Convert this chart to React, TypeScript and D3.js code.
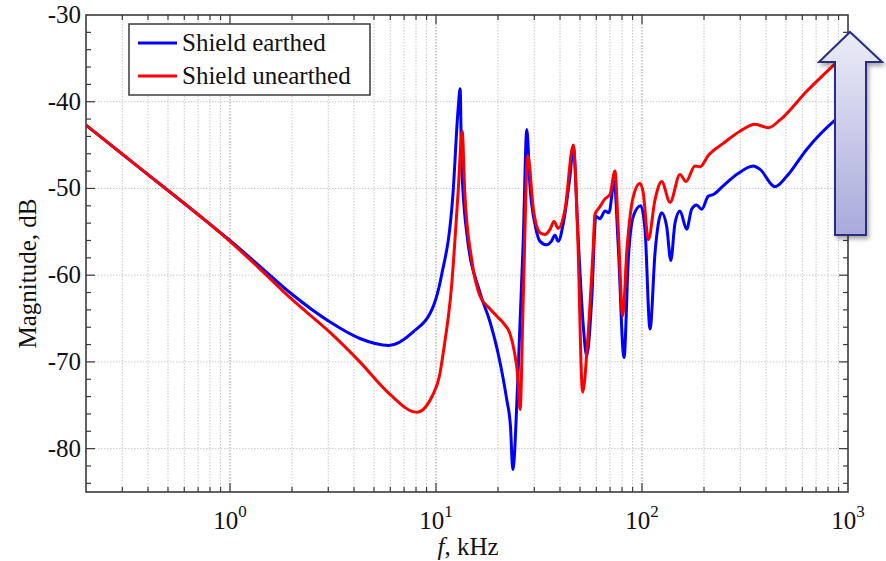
import React, { useEffect, useRef } from 'react';
import * as d3 from 'd3';

// frequency (kHz) and magnitude (dB)
const earthedFreq = [0.2, 0.4, 0.7, 1.0, 1.4, 2.0, 3.06, 4.27, 5.9, 7.7, 9.7, 10.6, 12.1, 12.8, 13.1, 13.3, 14.1, 16.35, 18.3, 20.1, 22.0, 23.0, 23.6, 25.0, 26.5, 27.6, 28.6, 30.4, 32.0, 34.5, 36.3, 37.8, 39.2, 41.5, 44.7, 46.4, 49.1, 51.9, 53.9, 57.0, 59.7, 62.5, 66.1, 69.1, 73.3, 76.7, 81.8, 85.8, 90.8, 98.6, 103.4, 109.4, 115.7, 124.6, 131.8, 138, 144.6, 152.9, 164.7, 174.2, 184.2, 194.8, 209.7, 221.9, 248, 288, 347, 374, 442, 504, 630, 849, 1000];
const earthedDb = [-42.7, -48.4, -53.0, -56.0, -59.0, -62.2, -65.4, -67.3, -68.1, -66.6, -63.6, -60.2, -50.5, -40.9, -38.5, -46.7, -55.1, -62.0, -65.4, -69.2, -74.2, -77.5, -82.4, -71.6, -56.2, -43.2, -49.8, -54.4, -56.1, -56.5, -56.1, -55.4, -56.1, -54.0, -48.6, -45.2, -56.2, -65.9, -69.3, -62.8, -53.2, -53.5, -52.6, -52.8, -49.2, -56.7, -69.5, -58.2, -53.2, -52.0, -54.7, -66.2, -57.4, -52.8, -54.4, -58.3, -54.0, -52.6, -54.7, -52.4, -51.9, -52.4, -50.9, -50.7, -49.7, -48.4, -47.4, -47.8, -49.8, -48.6, -45.5, -42.3, -41.0];

const unearthedFreq = [0.2, 0.4, 0.7, 1.0, 1.4, 2.0, 3.06, 4.27, 5.84, 8.06, 9.6, 10.4, 10.85, 11.9, 12.8, 13.4, 13.8, 14.9, 16.35, 18.3, 19.7, 21.2, 22.9, 24.0, 24.9, 25.6, 26.5, 27.9, 29.7, 32.0, 33.9, 35.8, 37.4, 39.2, 42.3, 46.4, 48.6, 51.5, 54.5, 57.9, 59.1, 62.5, 66.1, 69.9, 73.9, 76.7, 80.6, 84.5, 90.8, 97.8, 101.4, 107.3, 115.7, 124.6, 136.8, 152.9, 163.5, 180.7, 191.2, 209.7, 248, 299, 354, 410, 468, 630, 849, 1000];
const unearthedDb = [-42.7, -48.4, -53.0, -56.1, -59.3, -62.8, -66.6, -70.0, -73.5, -75.8, -73.9, -71.6, -68.9, -61.3, -50.5, -43.4, -50.5, -58.2, -62.4, -63.9, -64.7, -65.5, -66.8, -68.8, -71.5, -75.5, -63.0, -46.2, -52.4, -55.1, -55.3, -54.7, -53.8, -54.6, -52.4, -45.0, -54.4, -73.5, -67.5, -57.0, -53.0, -52.1, -51.2, -50.7, -48.0, -54.7, -64.7, -57.0, -50.9, -49.4, -50.5, -55.9, -51.3, -49.2, -51.6, -48.4, -49.2, -47.4, -47.5, -46.2, -44.8, -43.4, -42.6, -43.0, -42.1, -38.8, -35.8, -34.2];

const seriesNames = ['Shield earthed', 'Shield unearthed'];
const seriesColors = ['#0000ff', '#ff0000'];
const yTicks = [-80, -70, -60, -50, -40, -30];
const xDecades = [0, 1, 2, 3];

const App = () => {
    const svgRef = useRef<SVGSVGElement>(null);

    useEffect(() => {
        document.body.style.margin = '0';
        drawChart();
    }, []);

    const drawChart = () => {
        const margin = { top: 15, right: 38, bottom: 69, left: 86 };
        const totalW = 886, totalH = 561;
        const width = totalW - margin.left - margin.right;
        const height = totalH - margin.top - margin.bottom;
        const font = '"Liberation Serif", "Times New Roman", serif';

        const root = d3.select(svgRef.current);
        root.selectAll('*').remove();
        root.attr('width', totalW).attr('height', totalH);

        const defs = root.append('defs');
        defs.append('clipPath').attr('id', 'plot-clip')
            .append('rect').attr('width', width).attr('height', height);
        const grad = defs.append('linearGradient').attr('id', 'arrow-grad')
            .attr('x1', 0).attr('y1', 0).attr('x2', 0).attr('y2', 1);
        grad.append('stop').attr('offset', '0%').attr('stop-color', '#ececf7');
        grad.append('stop').attr('offset', '100%').attr('stop-color', '#a7aadb');
        const shadow = defs.append('filter').attr('id', 'arrow-shadow')
            .attr('x', '-30%').attr('y', '-10%').attr('width', '160%').attr('height', '130%');
        shadow.append('feDropShadow').attr('dx', 2).attr('dy', 3)
            .attr('stdDeviation', 2).attr('flood-color', '#000').attr('flood-opacity', 0.35);

        const svg = root.append('g')
            .attr('transform', `translate(${margin.left},${margin.top})`);

        // scales
        const x = d3.scaleLog().domain([0.2, 1000]).range([0, width]);
        const y = d3.scaleLinear().domain([-85, -30]).range([height, 0]);

        // all log ticks 0.2 .. 1000
        const logTicks: number[] = [];
        for (let d = -1; d <= 2; d++) {
            for (let m = 1; m <= 9; m++) {
                const v = m * Math.pow(10, d);
                if (v >= 0.2 - 1e-9) logTicks.push(+v.toPrecision(3));
            }
        }
        logTicks.push(1000);
        const isDecade = (v: number) => Math.abs(Math.log10(v) - Math.round(Math.log10(v))) < 1e-6;

        // grid
        svg.append('g').selectAll('line')
            .data(logTicks.filter(v => v > 0.2 && v < 1000))
            .enter().append('line')
            .attr('x1', d => x(d)).attr('x2', d => x(d))
            .attr('y1', 0).attr('y2', height)
            .attr('stroke', d => isDecade(d) ? '#9a9a9a' : '#c8c8c8')
            .attr('stroke-width', 1)
            .attr('stroke-dasharray', '1.5,1.5');
        svg.append('g').selectAll('line')
            .data(yTicks.filter(v => v > -85 && v < -30))
            .enter().append('line')
            .attr('x1', 0).attr('x2', width)
            .attr('y1', d => y(d)).attr('y2', d => y(d))
            .attr('stroke', '#c8c8c8')
            .attr('stroke-width', 1)
            .attr('stroke-dasharray', '1.5,1.5');

        // curves
        const line = d3.line<[number, number]>()
            .x(d => x(d[0]))
            .y(d => y(d[1]))
            .curve(d3.curveMonotoneX);
        const series = [
            d3.zip(earthedFreq, earthedDb) as [number, number][],
            d3.zip(unearthedFreq, unearthedDb) as [number, number][],
        ];
        const curves = svg.append('g').attr('clip-path', 'url(#plot-clip)');
        series.forEach((s, i) => {
            curves.append('path')
                .datum(s)
                .attr('d', line)
                .attr('fill', 'none')
                .attr('stroke', seriesColors[i])
                .attr('stroke-width', 3)
                .attr('stroke-linejoin', 'round');
        });

        // frame and inward ticks
        const axisColor = '#3a3a3a';
        svg.append('rect')
            .attr('width', width).attr('height', height)
            .attr('fill', 'none').attr('stroke', axisColor).attr('stroke-width', 1.6);

        const yMinor = d3.range(-84, -30, 2);
        const ticks = svg.append('g').attr('stroke', axisColor).attr('stroke-width', 1.2);
        yMinor.forEach(v => {
            const len = v % 10 === 0 ? 9 : 5;
            ticks.append('line').attr('x1', 0).attr('x2', len).attr('y1', y(v)).attr('y2', y(v));
            ticks.append('line').attr('x1', width).attr('x2', width - len).attr('y1', y(v)).attr('y2', y(v));
        });
        logTicks.filter(v => v > 0.2 && v < 1000).forEach(v => {
            const len = isDecade(v) ? 9 : 5;
            ticks.append('line').attr('x1', x(v)).attr('x2', x(v)).attr('y1', height).attr('y2', height - len);
            ticks.append('line').attr('x1', x(v)).attr('x2', x(v)).attr('y1', 0).attr('y2', len);
        });

        // y tick labels
        svg.append('g').selectAll('text')
            .data(yTicks)
            .enter().append('text')
            .attr('x', -5)
            .attr('y', d => y(d) + 8)
            .attr('text-anchor', 'end')
            .style('font-family', font)
            .style('font-size', '25px')
            .attr('fill', '#111')
            .text(d => String(d));

        // x tick labels 10^n
        const xl = svg.append('g');
        xDecades.forEach(p => {
            const t = xl.append('text')
                .attr('x', x(Math.pow(10, p)))
                .attr('y', height + 37)
                .attr('text-anchor', 'middle')
                .style('font-family', font)
                .style('font-size', '25px')
                .attr('fill', '#111');
            t.append('tspan').text('10');
            t.append('tspan').attr('dy', -12).style('font-size', '17px').text(String(p));
        });

        // axis titles
        const xt = svg.append('text')
            .attr('x', (434 + 502) / 2 - margin.left)
            .attr('y', height + 63)
            .attr('text-anchor', 'middle')
            .style('font-family', font)
            .style('font-size', '25px')
            .attr('fill', '#111');
        xt.append('tspan').style('font-style', 'italic').text('f');
        xt.append('tspan').text(', kHz');

        svg.append('text')
            .attr('transform', `translate(${-50},${height / 2 + 20}) rotate(-90)`)
            .attr('text-anchor', 'middle')
            .style('font-family', font)
            .style('font-size', '25px')
            .attr('fill', '#111')
            .text('Magnitude, dB');

        // legend
        const lg = svg.append('g').attr('transform', 'translate(43,9)');
        lg.append('rect')
            .attr('width', 241).attr('height', 71)
            .attr('fill', '#fff').attr('stroke', axisColor).attr('stroke-width', 1.5);
        seriesNames.forEach((name, i) => {
            const yy = 19 + i * 33;
            lg.append('line')
                .attr('x1', 9).attr('x2', 48).attr('y1', yy).attr('y2', yy)
                .attr('stroke', seriesColors[i]).attr('stroke-width', 3);
            lg.append('text')
                .attr('x', 53).attr('y', yy + 8)
                .style('font-family', font)
                .style('font-size', '25px')
                .attr('fill', '#111')
                .text(name);
        });

        // annotation arrow (drawn over the plot)
        const ax = 850 - margin.left, ay = 32 - margin.top;
        const arrow = d3.path();
        arrow.moveTo(ax, ay);
        arrow.lineTo(ax + 32, ay + 30);
        arrow.lineTo(ax + 16, ay + 30);
        arrow.lineTo(ax + 16, ay + 203);
        arrow.lineTo(ax - 15, ay + 203);
        arrow.lineTo(ax - 15, ay + 30);
        arrow.lineTo(ax - 31, ay + 30);
        arrow.closePath();
        svg.append('path')
            .attr('d', arrow.toString())
            .attr('fill', 'url(#arrow-grad)')
            .attr('stroke', '#2b2d80')
            .attr('stroke-width', 2)
            .attr('stroke-linejoin', 'miter')
            .attr('filter', 'url(#arrow-shadow)');
    };

    return <svg ref={svgRef} style={{ display: 'block' }}></svg>;
};

export default App;
